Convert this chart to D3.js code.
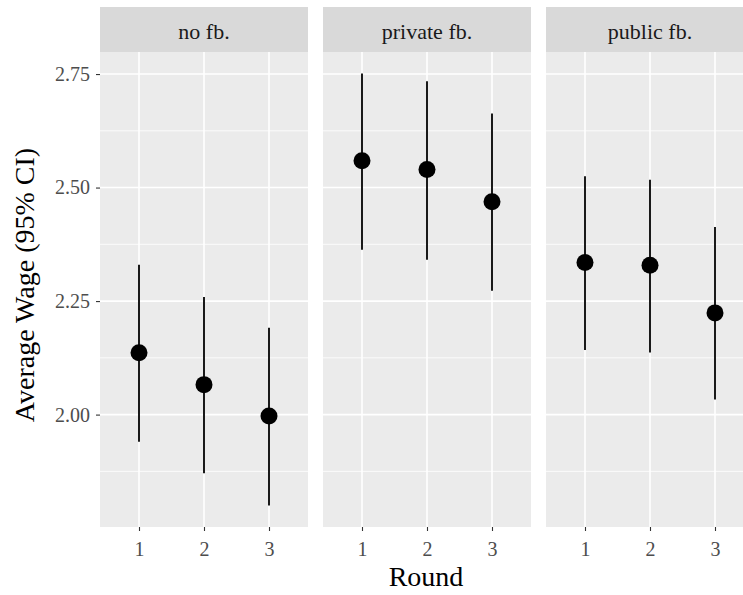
<!DOCTYPE html>
<html>
<head>
<meta charset="utf-8">
<script src="https://cdn.jsdelivr.net/npm/d3@7"></script>
<style>
  html, body { margin: 0; padding: 0; background: #fff; }
  svg { display: block; font-family: "Liberation Serif", "Times New Roman", serif; }
</style>
</head>
<body>
<svg id="chart" width="743" height="595"></svg>
<script>
// Facets (feedback condition) and rounds
const facets = ["no fb.", "private fb.", "public fb."];
const rounds = ["1", "2", "3"];

// Mean wage per facet, by round
const meanWage = [
  [2.136, 2.066, 1.997],
  [2.559, 2.540, 2.469],
  [2.335, 2.329, 2.224]
];
// Lower / upper bounds of the 95% confidence interval
const ciLower = [
  [1.940, 1.871, 1.800],
  [2.363, 2.341, 2.273],
  [2.142, 2.137, 2.033]
];
const ciUpper = [
  [2.330, 2.259, 2.191],
  [2.751, 2.734, 2.663],
  [2.525, 2.517, 2.413]
];

const yMajorTicks = [2.00, 2.25, 2.50, 2.75];
const yMinorTicks = [1.875, 2.125, 2.375, 2.625];

const svg = d3.select("#chart");
const serif = '"Liberation Serif", "Times New Roman", serif';

// Geometry
const panelLeft = 100, panelWidth = 208, panelGap = 15;
const stripTop = 7, stripH = 45;
const panelTop = stripTop + stripH, panelBottom = 527;

// Scales
const allLo = d3.min(ciLower.flat()), allHi = d3.max(ciUpper.flat());
const pad = (allHi - allLo) * 0.05;
const y = d3.scaleLinear().domain([allLo - pad, allHi + pad]).range([panelBottom, panelTop]);
const x = d3.scalePoint().domain(rounds).range([0, panelWidth]).padding(0.6);
const fx = d3.scaleBand().domain(facets).range([panelLeft, panelLeft + 3 * panelWidth + 2 * panelGap]).paddingInner(panelGap / (panelWidth + panelGap));

facets.forEach((f, i) => {
  const g = svg.append("g").attr("transform", `translate(${fx(f)},0)`);

  // strip
  g.append("rect").attr("x", 0).attr("y", stripTop).attr("width", panelWidth).attr("height", stripH).attr("fill", "#d9d9d9");
  g.append("text").attr("x", panelWidth / 2).attr("y", stripTop + 32)
    .attr("text-anchor", "middle").attr("font-size", 22).attr("fill", "#1a1a1a").text(f);

  // panel background
  g.append("rect").attr("x", 0).attr("y", panelTop).attr("width", panelWidth).attr("height", panelBottom - panelTop).attr("fill", "#ebebeb");

  // grid
  g.selectAll(".minor").data(yMinorTicks).join("line")
    .attr("x1", 0).attr("x2", panelWidth).attr("y1", d => y(d)).attr("y2", d => y(d))
    .attr("stroke", "#fff").attr("stroke-width", 0.8);
  g.selectAll(".major").data(yMajorTicks).join("line")
    .attr("x1", 0).attr("x2", panelWidth).attr("y1", d => y(d)).attr("y2", d => y(d))
    .attr("stroke", "#fff").attr("stroke-width", 1.6);
  g.selectAll(".vmajor").data(rounds).join("line")
    .attr("x1", d => x(d)).attr("x2", d => x(d)).attr("y1", panelTop).attr("y2", panelBottom)
    .attr("stroke", "#fff").attr("stroke-width", 1.6);

  // confidence intervals and means
  const rows = rounds.map((r, j) => ({ r, m: meanWage[i][j], lo: ciLower[i][j], hi: ciUpper[i][j] }));
  g.selectAll(".ci").data(rows).join("line")
    .attr("x1", d => x(d.r)).attr("x2", d => x(d.r))
    .attr("y1", d => y(d.lo)).attr("y2", d => y(d.hi))
    .attr("stroke", "#000").attr("stroke-width", 1.8);
  g.selectAll(".pt").data(rows).join("circle")
    .attr("cx", d => x(d.r)).attr("cy", d => y(d.m)).attr("r", 8.5).attr("fill", "#000");

  // x axis
  const xa = g.append("g").attr("transform", `translate(0,${panelBottom})`)
    .call(d3.axisBottom(x).tickSize(4).tickPadding(11))
    .attr("font-family", serif).attr("font-size", 20);
  xa.select(".domain").remove();
  xa.selectAll(".tick line").attr("stroke", "#333").attr("stroke-width", 1.1);
  xa.selectAll(".tick text").attr("fill", "#4d4d4d");
});

// y axis
const ya = svg.append("g").attr("transform", `translate(${panelLeft},0)`)
  .call(d3.axisLeft(y).tickValues(yMajorTicks).tickFormat(d3.format(".2f")).tickSize(4).tickPadding(6))
  .attr("font-family", serif).attr("font-size", 20);
ya.select(".domain").remove();
ya.selectAll(".tick line").attr("stroke", "#333").attr("stroke-width", 1.1);
ya.selectAll(".tick text").attr("fill", "#4d4d4d");

// axis titles
svg.append("text").attr("x", 426).attr("y", 586).attr("text-anchor", "middle")
  .attr("font-size", 28).attr("fill", "#000").text("Round");
svg.append("text").attr("transform", `translate(34,285) rotate(-90)`)
  .attr("text-anchor", "middle").attr("font-size", 28).attr("fill", "#000").text("Average Wage (95% CI)");
</script>
</body>
</html>
